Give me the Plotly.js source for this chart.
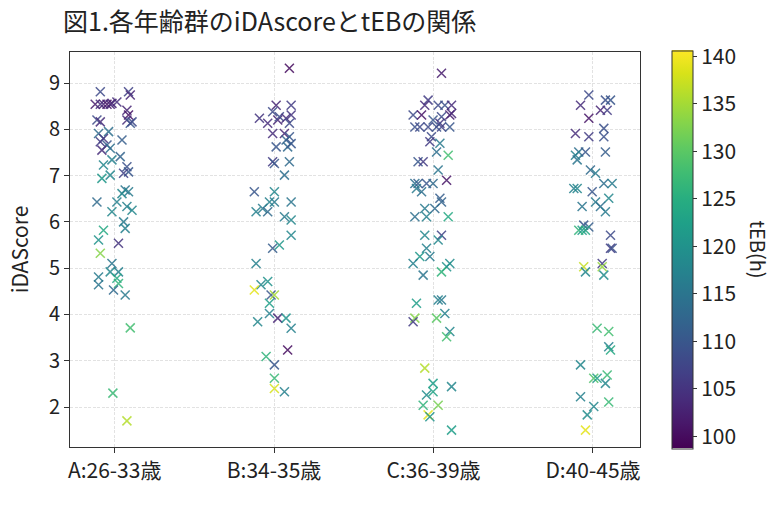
<!DOCTYPE html>
<html>
<head>
<meta charset="utf-8">
<script src="https://cdn.plot.ly/plotly-3.0.1.min.js"></script>
<style>
  html, body { margin: 0; padding: 0; background: #ffffff; }
  #chart { width: 782px; height: 507px; }
</style>
</head>
<body>
<div id="chart"></div>
<script>
  // age groups (x categories)
  const groups = ['A:26-33歳', 'B:34-35歳', 'C:36-39歳', 'D:40-45歳'];

  // horizontal jitter around each category, iDAscore, tEB(h)
  const jitterA = [-0.090, 0.087, 0.098, 0.014, -0.017, -0.122, -0.090, -0.070, -0.048, -0.028,
    0.077, 0.087, 0.077, 0.098, 0.109, -0.111, -0.090, -0.101, -0.038, -0.070,
    0.046, -0.090, -0.048, -0.080, -0.028, 0.035, -0.070, -0.017, 0.077, 0.087,
    0.056, -0.080, -0.028, 0.066, 0.087, 0.046, -0.111, 0.014, 0.077, 0.109,
    -0.017, 0.056, 0.066, -0.070, -0.101, 0.024, -0.090, -0.017, -0.101, -0.028,
    0.024, 0.014, -0.101, 0.024, -0.007, 0.066, 0.098, -0.011, 0.077];
  const scoreA = [8.81, 8.81, 8.74, 8.59, 8.56, 8.54, 8.54, 8.54, 8.54, 8.54,
    8.41, 8.31, 8.20, 8.13, 8.16, 8.20, 8.16, 7.91, 7.95, 7.80,
    7.77, 7.73, 7.66, 7.55, 7.59, 7.41, 7.23, 7.34, 7.19, 7.08,
    7.05, 6.94, 7.01, 6.69, 6.65, 6.61, 6.43, 6.43, 6.33, 6.25,
    6.22, 6.00, 5.86, 5.82, 5.61, 5.54, 5.32, 5.10, 4.81, 4.92,
    4.92, 4.78, 4.64, 4.67, 4.53, 4.42, 3.71, 2.30, 1.70];
  const tebA = [108, 107, 103, 104, 103, 102, 104, 103, 101, 103,
    103, 101, 104, 110, 108, 108, 104, 113, 114, 105,
    111, 106, 110, 104, 114, 112, 118, 117, 109, 110,
    107, 121, 118, 115, 116, 118, 113, 117, 117, 118,
    118, 116, 117, 124, 120, 105, 133, 115, 116, 118,
    117, 124, 115, 126, 113, 116, 128, 127, 136];

  const jitterB = [0.096, 0.013, 0.107, -0.009, -0.092, -0.040, 0.023, 0.033, 0.075, 0.107,
    0.096, -0.009, 0.065, 0.096, 0.075, 0.013, 0.085, 0.107, -0.009, 0.002,
    0.096, 0.065, -0.124, 0.002, -0.029, 0.002, 0.107, -0.113, -0.072, -0.040,
    0.065, 0.107, 0.107, 0.033, -0.009, -0.113, -0.082, -0.040, -0.124, -0.019,
    0.002, -0.029, -0.029, 0.023, 0.075, -0.103, 0.107, 0.085, -0.050, 0.002,
    0.002, 0.002, 0.065];
  const scoreB = [9.32, 8.52, 8.52, 8.38, 8.24, 8.13, 8.20, 8.27, 8.24, 8.31,
    8.13, 7.91, 7.91, 7.84, 7.77, 7.62, 7.62, 7.69, 7.30, 7.26,
    7.30, 7.01, 6.65, 6.65, 6.43, 6.43, 6.43, 6.22, 6.29, 6.22,
    6.11, 6.04, 5.71, 5.50, 5.43, 5.10, 4.64, 4.71, 4.53, 4.42,
    4.42, 4.24, 4.02, 3.92, 3.92, 3.84, 3.70, 3.23, 3.09, 2.91,
    2.62, 2.40, 2.33];
  const tebB = [100, 103, 106, 108, 105, 104, 103, 108, 104, 105,
    108, 104, 103, 110, 112, 110, 113, 110, 106, 110,
    113, 114, 110, 118, 117, 116, 115, 117, 116, 113,
    116, 118, 118, 121, 111, 117, 118, 120, 139, 110,
    135, 122, 117, 103, 120, 118, 117, 100, 126, 110,
    127, 138, 117];

  const jitterC = [0.050, -0.034, 0.029, 0.071, 0.113, -0.055, -0.128, -0.075, 0.102, 0.113,
    0.050, -0.003, -0.117, -0.086, -0.034, 0.040, 0.050, 0.102, 0.019, -0.013,
    -0.023, 0.040, 0.019, 0.092, -0.097, -0.065, 0.029, 0.082, -0.117, -0.097,
    -0.044, -0.003, -0.107, -0.075, 0.040, 0.050, -0.055, 0.008, -0.117, -0.044,
    0.092, -0.055, 0.050, 0.029, -0.044, -0.086, -0.023, -0.128, 0.102, 0.082,
    0.050, -0.065, -0.107, 0.029, 0.050, 0.071, -0.117, -0.128, 0.019, 0.102,
    0.082, -0.055, -0.003, 0.113, -0.044, -0.003, -0.065, 0.029, -0.034, -0.023,
    0.113];
  const scoreC = [9.21, 8.63, 8.52, 8.52, 8.52, 8.52, 8.31, 8.31, 8.31, 8.34,
    8.27, 8.20, 8.05, 8.05, 8.05, 8.13, 8.05, 8.05, 8.05, 7.84,
    7.73, 7.70, 7.51, 7.44, 7.30, 7.30, 7.12, 6.90, 6.83, 6.83,
    6.83, 6.83, 6.72, 6.65, 6.51, 6.43, 6.29, 6.29, 6.11, 6.11,
    6.11, 5.71, 5.71, 5.61, 5.43, 5.25, 5.25, 5.10, 5.10, 5.03,
    4.92, 4.85, 4.24, 4.31, 4.31, 4.02, 3.92, 3.84, 3.92, 3.63,
    3.52, 2.84, 2.51, 2.44, 2.26, 2.33, 2.04, 2.04, 1.83, 1.79,
    1.50];
  const tebC = [102, 106, 108, 109, 104, 104, 108, 101, 102, 103,
    108, 110, 109, 108, 108, 105, 107, 110, 109, 108,
    106, 116, 114, 128, 110, 106, 115, 101, 114, 111,
    110, 113, 116, 114, 111, 112, 116, 113, 114, 117,
    124, 118, 107, 118, 117, 121, 116, 117, 119, 120,
    126, 115, 122, 117, 116, 117, 133, 106, 130, 118,
    128, 136, 122, 118, 119, 123, 126, 132, 139, 120,
    122];

  const jitterD = [-0.026, -0.078, 0.078, 0.110, 0.047, 0.089, -0.026, -0.110, -0.026, 0.068,
    0.068, -0.089, -0.047, 0.078, -0.110, -0.099, -0.016, 0.016, 0.068, 0.120,
    -0.120, -0.099, -0.005, 0.099, 0.016, -0.068, 0.047, 0.078, -0.058, -0.026,
    -0.089, -0.068, -0.047, 0.110, 0.110, 0.120, 0.058, -0.058, -0.047, 0.058,
    0.068, 0.026, 0.099, 0.099, 0.110, -0.078, 0.089, 0.005, 0.026, 0.078,
    -0.078, 0.005, 0.099, -0.036, -0.047];
  const scoreD = [8.74, 8.52, 8.63, 8.63, 8.41, 8.41, 8.24, 7.91, 7.84, 8.02,
    7.84, 7.51, 7.51, 7.51, 7.44, 7.34, 7.12, 7.05, 6.83, 6.83,
    6.72, 6.72, 6.65, 6.51, 6.43, 6.33, 6.33, 6.22, 5.93, 5.89,
    5.82, 5.82, 5.82, 5.71, 5.43, 5.43, 5.10, 5.03, 4.92, 5.03,
    4.85, 3.70, 3.63, 3.30, 3.23, 2.91, 2.69, 2.62, 2.62, 2.51,
    2.22, 2.01, 2.11, 1.83, 1.50];
  const tebD = [108, 104, 109, 110, 103, 106, 101, 104, 106, 109,
    109, 114, 110, 111, 117, 115, 113, 116, 114, 116,
    117, 118, 110, 118, 116, 115, 114, 116, 110, 111,
    126, 122, 124, 108, 106, 109, 106, 137, 118, 134,
    119, 127, 128, 117, 124, 118, 127, 129, 122, 118,
    117, 118, 127, 119, 139];

  const jitters = [jitterA, jitterB, jitterC, jitterD];
  const scores = [scoreA, scoreB, scoreC, scoreD];
  const tebs = [tebA, tebB, tebC, tebD];

  const xs = [];
  const ys = [];
  const cs = [];
  jitters.forEach((list, i) => {
    list.forEach((j, k) => {
      xs.push(i + j);
      ys.push(scores[i][k]);
      cs.push(tebs[i][k]);
    });
  });

  const FONT = 'Noto Sans CJK JP, Noto Sans, sans-serif';
  const TEXT = '#222222';
  const AXIS = '#333333';
  const CMIN = 98.7;
  const CMAX = 140.6;

  const trace = {
    x: xs,
    y: ys,
    mode: 'markers',
    type: 'scatter',
    showlegend: false,
    marker: {
      symbol: 'x-thin',
      size: 9,
      color: cs,
      colorscale: 'Viridis',
      cmin: CMIN,
      cmax: CMAX,
      opacity: 0.85,
      line: {
        width: 1.5,
        color: cs,
        colorscale: 'Viridis',
        cmin: CMIN,
        cmax: CMAX
      },
      showscale: true,
      colorbar: {
        x: 1.056,
        xanchor: 'left',
        xpad: 0,
        y: 0.5,
        yanchor: 'middle',
        ypad: 0,
        len: 1.008,
        lenmode: 'fraction',
        thickness: 21,
        outlinewidth: 1,
        outlinecolor: AXIS,
        tickmode: 'array',
        tickvals: [100, 105, 110, 115, 120, 125, 130, 135, 140],
        ticks: 'outside',
        ticklen: 4,
        tickcolor: AXIS,
        tickfont: { family: FONT, size: 21, color: TEXT }
      }
    }
  };

  const gridStyle = {
    showgrid: true,
    gridcolor: '#e2e2e2',
    griddash: '3px,1.5px',
    gridwidth: 0.8,
    zeroline: false,
    showline: true,
    mirror: true,
    linecolor: AXIS,
    linewidth: 1,
    ticks: 'outside',
    ticklen: 5,
    tickcolor: AXIS
  };

  const layout = {
    width: 782,
    height: 507,
    margin: { l: 70, r: 142, t: 52, b: 60 },
    paper_bgcolor: '#ffffff',
    plot_bgcolor: '#ffffff',
    font: { family: FONT, size: 20, color: TEXT },
    title: {
      text: '図1.各年齢群のiDAscoreとtEBの関係',
      xref: 'container',
      x: 63 / 782,
      xanchor: 'left',
      yref: 'container',
      y: 1 - 22 / 507,
      yanchor: 'middle',
      font: { family: FONT, size: 25, color: TEXT }
    },
    xaxis: Object.assign({}, gridStyle, {
      range: [-0.28, 3.295],
      tickmode: 'array',
      tickvals: [0, 1, 2, 3],
      ticktext: groups,
      tickfont: { family: FONT, size: 21, color: TEXT }
    }),
    yaxis: Object.assign({}, gridStyle, {
      range: [1.136, 9.67],
      tickmode: 'array',
      tickvals: [2, 3, 4, 5, 6, 7, 8, 9],
      tickfont: { family: FONT, size: 20, color: TEXT },
      title: {
        text: 'iDAScore',
        standoff: 14,
        font: { family: FONT, size: 21, color: TEXT }
      }
    }),
    annotations: [
      {
        // colorbar label, reads top to bottom
        text: 'tEB(h)',
        xref: 'paper',
        yref: 'paper',
        x: (758 - 70) / 570,
        y: 0.5,
        xanchor: 'center',
        yanchor: 'middle',
        textangle: 90,
        showarrow: false,
        font: { family: FONT, size: 20, color: TEXT }
      }
    ]
  };

  Plotly.newPlot('chart', [trace], layout, { displayModeBar: false, responsive: false });
</script>
</body>
</html>
